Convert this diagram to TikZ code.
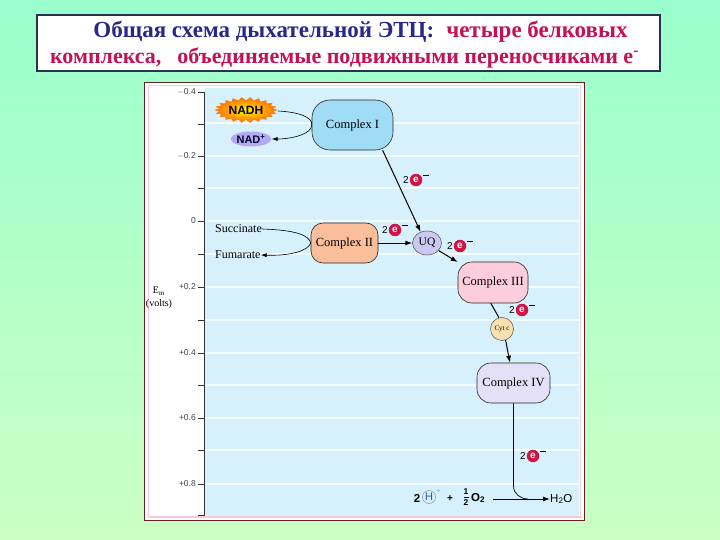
\documentclass[tikz,border=0pt]{standalone}
\usepackage{fontspec}
\setmainfont{Liberation Serif}
\setsansfont{Liberation Sans}
\usetikzlibrary{shapes.geometric,arrows.meta}
\definecolor{bgtop}{RGB}{153,255,204}
\definecolor{bgbot}{RGB}{204,255,196}
\definecolor{ttlblue}{RGB}{40,40,140}
\definecolor{ttlred}{RGB}{196,16,84}
\definecolor{ttlbox}{RGB}{40,50,80}
\definecolor{panelblue}{RGB}{214,241,251}
\definecolor{panelline}{RGB}{100,30,40}
\definecolor{panelpink}{RGB}{250,200,215}
\definecolor{cIfill}{RGB}{160,220,245}
\definecolor{cIIfill}{RGB}{250,190,155}
\definecolor{cIIIfill}{RGB}{252,205,220}
\definecolor{cIVfill}{RGB}{228,224,248}
\definecolor{uqfill}{RGB}{205,200,242}
\definecolor{nadfill}{RGB}{180,170,240}
\definecolor{cytfill}{RGB}{248,224,175}
\definecolor{ered}{RGB}{208,20,68}
\definecolor{hblue}{RGB}{40,90,200}
\tikzset{
  cplx/.style={draw=black!85, line width=0.6pt, rounded corners=#1, inner sep=0pt,
    font=\fontsize{12.5}{13}\selectfont},
  oval/.style={ellipse, draw=black!70, line width=0.5pt, inner sep=0pt},
  flow/.style={line width=1pt, -{Latex[length=7pt,width=5pt]}},
  thinflow/.style={line width=0.6pt, -{Latex[length=6pt,width=4pt]}},
  tlabel/.style={anchor=east, inner sep=0pt, font=\sffamily\fontsize{8.5}{9}\selectfont, text=black!75},
  etwo/.style={inner sep=0pt, font=\sffamily\fontsize{10}{10}\selectfont},
  ecirc/.style={circle, fill=ered, minimum size=12.5, inner sep=0pt, text=white!85!pink,
    font=\sffamily\bfseries\fontsize{10}{10}\selectfont},
  ebar/.style={fill=black, minimum width=6.5, minimum height=0.9, inner sep=0pt},
  side/.style={inner sep=0pt, font=\fontsize{12}{13}\selectfont},
  eqtxt/.style={inner sep=0pt, font=\sffamily\bfseries\fontsize{11.5}{12}\selectfont},
  fracdigit/.style={inner sep=0pt, font=\sffamily\bfseries\fontsize{8.5}{9}\selectfont},
}
\newcommand\ebadge[3]{%
  \node[etwo] (#1two) at (#2-10,#3) {2};
  \node[ecirc] (#1) at (#2,#3) {e};
  \node[ebar] (#1bar) at (#2+10,#3-4.5) {};
}
\begin{document}
\begin{tikzpicture}[x=1pt,y=-1pt]
\useasboundingbox (0,0) rectangle (720,540);
\shade[top color=bgtop, bottom color=bgbot] (0,0) rectangle (720,540);

% title
\draw[fill=white, draw=ttlbox, line width=1.2pt] (37,15) rectangle (660,71);
\node[inner sep=0pt, font=\bfseries\fontsize{23}{24}\selectfont] (t1) at (360.5,32)
  {\textcolor{ttlblue}{Общая схема дыхательной ЭТЦ:}\hspace{12pt}\textcolor{ttlred}{четыре белковых}};
\node[inner sep=0pt, font=\bfseries\fontsize{22}{23}\selectfont, text=ttlred] (t2) at (344.5,57.5)
  {комплекса,\hspace{16pt}объединяемые подвижными переносчиками е\textsuperscript{-}};

% panel
\draw[fill=white, draw=panelline, line width=0.8pt] (144,82) rectangle (584,520);
\draw[draw=panelpink, line width=1.5pt] (148.5,85.5) rectangle (580.5,517);
\fill[panelblue] (205,88) rectangle (579,516);
\foreach \y in {123,156,188,221,254,287,320,353,385,418,450,484}
  \draw[white, line width=1.3pt, opacity=0.8] (205,\y) -- (579,\y);

% axis
\draw[line width=0.7pt, black!80] (204.5,92) -- (204.5,516);
\foreach \y/\l in {92/$-$0.4,156/$-$0.2,221/0,287/+0.2,353/+0.4,418/+0.6,484/+0.8}{
  \draw[line width=0.7pt, black!80] (198,\y) -- (204.5,\y);
  \node[tlabel] (tl\y) at (196,\y) {\l};
}
\foreach \y in {124,188,254,320,385,450,515}
  \draw[line width=0.7pt, black!80] (198,\y) -- (204.5,\y);
\node[inner sep=0pt, font=\fontsize{10}{10}\selectfont] (em) at (159,291) {E\textsubscript{m}};
\node[inner sep=0pt, font=\fontsize{10}{10}\selectfont] (volts) at (159,304) {(volts)};

% complexes
\node[cplx=18, fill=cIfill, minimum width=81, minimum height=50] (c1) at (352.5,125) {Complex I};
\node[cplx=12, fill=cIIfill, minimum width=67, minimum height=40] (c2) at (344.5,243) {Complex II};
\node[cplx=14, fill=cIIIfill, minimum width=70, minimum height=41] (c3) at (493,282.5) {Complex III};
\node[cplx=14, fill=cIVfill, minimum width=73, minimum height=40] (c4) at (513.5,383) {Complex IV};
\node[oval, fill=uqfill, minimum width=29, minimum height=24, font=\fontsize{11.5}{12}\selectfont] (uq) at (427,243) {UQ};
\node[circle, draw=black!70, line width=0.5pt, fill=cytfill, minimum size=23, inner sep=0pt,
  font=\fontsize{7}{7}\selectfont] (cyt) at (502,329) {Cyt c};

% NADH / NAD+
\shade[inner color=yellow!95!orange, outer color=orange!85!red, draw=orange!90!red, line width=0.4pt]
  plot[samples at={0,1,...,43}] ({246+(mod(\x,2)==0 ? 31 : 26.5)*cos(\x*360/44)},
                                 {110+(mod(\x,2)==0 ? 12.5 : 9.5)*sin(\x*360/44)}) -- cycle;
\node[inner sep=0pt, font=\sffamily\bfseries\fontsize{12}{12}\selectfont] (nadh) at (246,110) {NADH};
\coordinate (nadhe) at (278,111);
\node[ellipse, fill=nadfill, minimum width=33, minimum height=15, inner sep=0pt,
  font=\sffamily\bfseries\fontsize{11}{12}\selectfont, text=black!80!blue] (nad) at (251,139) {NAD\textsuperscript{+}};
\draw[thinflow] (nadhe) .. controls (298,112) and (313,117) .. (c1.west)
  .. controls (312,134) and (292,139) .. (nad.east);

% Succinate / Fumarate
\node[side, anchor=west] (succ) at (215,229) {Succinate};
\node[side, anchor=west] (fum) at (215,255) {Fumarate};
\draw[thinflow] (succ.east) .. controls (295,230) and (309,235) .. (c2.west)
  .. controls (308,251) and (290,256) .. (fum.east);

% electron flow
\draw[flow] (c1.-40) -- (uq.120);
\draw[flow] (c2.east) -- (uq.west);
\draw[flow] (uq.-33) -- (c3.150);
\draw[line width=1pt] (c3.-96) -- (cyt.105);
\draw[flow] (cyt.-72) -- (c4.100);
\ebadge{b1}{416}{180}
\ebadge{b2}{395}{230}
\ebadge{b3}{460}{246}
\ebadge{b4}{522}{310}
\ebadge{b5}{533}{456}

% oxygen reduction
\node[eqtxt] (eq2) at (417,498) {2};
\node[circle, draw=black!50, line width=0.4pt, minimum size=13, inner sep=0pt, text=hblue,
  font=\sffamily\fontsize{11}{12}\selectfont] (hc) at (429,497) {H};
\node[inner sep=0pt, text=hblue!60, font=\sffamily\fontsize{7}{7}\selectfont] (hp) at (438.5,491) {+};
\node[eqtxt, font=\sffamily\bfseries\fontsize{10}{10}\selectfont] (pl) at (450,499) {+};
\node[fracdigit] (hnum) at (466,492) {1};
\node[fill=black, minimum width=5, minimum height=0.6, inner sep=0pt] (hbar) at (466,497) {};
\node[fracdigit] (hden) at (466,502.5) {2};
\node[eqtxt, anchor=west] (o2) at (471,498) {O\textsubscript{2}};
\node[inner sep=0pt, font=\sffamily\fontsize{11.5}{12}\selectfont, anchor=west] (h2o) at (550,499) {H\textsubscript{2}O};
\coordinate (join) at (528,499);
\draw[line width=0.7pt] (c4.south) -- (513.5,486) to[out=-90,in=180] (join);
\coordinate (o2e) at (493,499);
\draw[flow] (o2e) -- (h2o.west);
\end{tikzpicture}
\end{document}
